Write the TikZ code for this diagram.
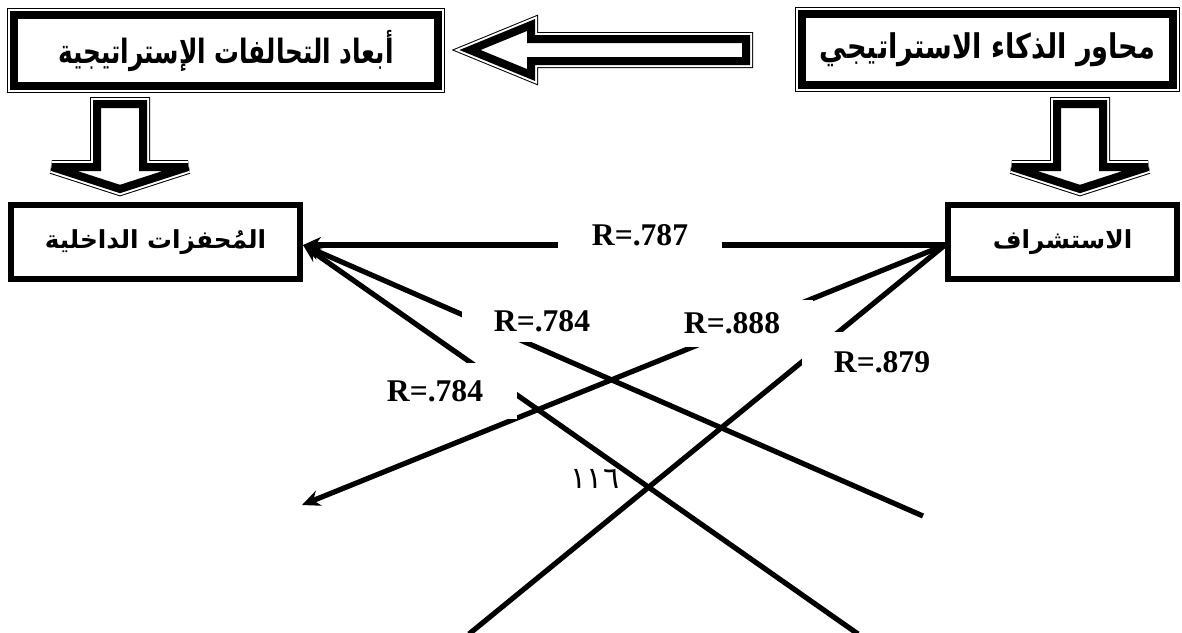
\documentclass[tikz,border=0pt]{standalone}
\usepackage{graphicx}
\usepackage{fontspec}
\setmainfont{Liberation Serif}
\newfontfamily\arabicfont[Script=Arabic]{DejaVu Sans}
\TeXXeTstate=1
\usetikzlibrary{arrows.meta, calc}
\newcommand{\artext}[1]{\arabicfont\bfseries\beginR #1\endR}

\begin{document}
\begin{tikzpicture}[
    x=0.5pt, y=-0.5pt,
    every node/.style={inner sep=0pt},
    framebox/.style={rectangle, draw=black, fill=white, line width=4pt,
                     preaction={draw=black, line width=7pt},
                     preaction={draw=white, line width=6pt},
                     font=\fontsize{12.4}{15}\selectfont},
    blockarrow/.style={draw=black, fill=white, line width=4pt, line join=miter,
                       miter limit=4,
                       preaction={draw=black, line width=7pt, line join=miter, miter limit=4},
                       preaction={draw=white, line width=6pt, line join=miter, miter limit=4}},
    varbox/.style={rectangle, draw=black, fill=white, line width=3pt,
                   font=\fontsize{12.4}{15}\selectfont},
    link/.style={line width=2.6pt},
    arrow/.style={link, -{Stealth[length=9pt, width=8pt]}},
    rvalue/.style={fill=white, font=\fontsize{15.8}{18}\selectfont\bfseries}
]
\useasboundingbox (0,0) rectangle (1182,632);

% top boxes
\node[framebox, minimum width=212pt, minimum height=35.5pt] (dims) at (226,50.5)
    {\scalebox{1}[1.35]{\arabicfont\bfseries\beginR أبعاد التحالفات الإستراتيجية\endR}};
\node[framebox, minimum width=185.5pt, minimum height=35.5pt,
      font=\fontsize{13.6}{16}\selectfont] (axes) at (987.5,49.5)
    {\scalebox{1}[1.25]{\arabicfont\bfseries\beginR محاور الذكاء الاستراتيجي\endR}};

% variables
\node[varbox, minimum width=144.5pt, minimum height=37pt] (drivers) at (155.5,242)
    {\artext{المُحفزات الداخلية}};
\node[varbox, minimum width=114.5pt, minimum height=37pt] (foresight) at (1062.5,242)
    {\artext{الاستشراف}};

% block arrows
\draw[blockarrow] (470,50) -- (531,25) -- (531,39) -- (746,39) -- (746,61)
    -- (531,61) -- (531,75) -- cycle;
\draw[blockarrow] (97,104) -- (143,104) -- (143,167) -- (188,167) -- (120,189)
    -- (52,167) -- (97,167) -- cycle;
\draw[blockarrow] (1057,104) -- (1103,104) -- (1103,167) -- (1148,167) -- (1080,189)
    -- (1012,167) -- (1057,167) -- cycle;

% loose ends
\coordinate (a1) at (923,516);
\coordinate (b1) at (858,634);
\coordinate (c1) at (302,505);
\coordinate (d1) at (469,634);

\draw[arrow] ([yshift=-1.5pt]foresight.west) -- ([yshift=-1.5pt]drivers.east);
\draw[arrow] (a1) -- ([yshift=-1.5pt]drivers.east);
\draw[arrow] (b1) -- ([yshift=-1.5pt]drivers.east);
\draw[arrow] ([yshift=-1.5pt]foresight.west) -- (c1);
\draw[link] ([yshift=-1.5pt]foresight.west) -- (d1);

% correlation values
\node[rvalue, minimum width=82pt, minimum height=20pt] (r787) at (640,235) {R=.787};
\node[rvalue, minimum width=80pt, minimum height=21pt] (r784a) at (542,321) {R=.784};
\node[rvalue, minimum width=82pt, minimum height=28pt] (r784b) at (435,391) {R=.784};
\node[rvalue, minimum width=81pt, minimum height=23.5pt] (r888) at (732,323.5) {R=.888};
\node[rvalue, minimum width=80pt, minimum height=30pt] (r879) at (882,362) {R=.879};

\node[font=\arabicfont\fontsize{15}{18}\selectfont] (page) at (595,479) {١١٦};

\end{tikzpicture}
\end{document}
